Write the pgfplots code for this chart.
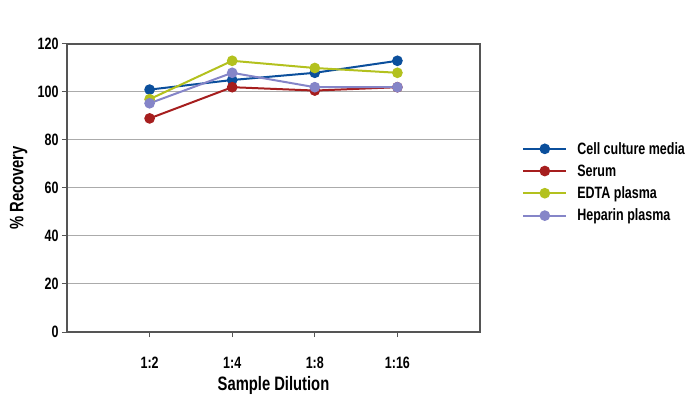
\documentclass[border=0pt]{standalone}
\usepackage{fontspec}
\setmainfont{Liberation Sans}[FakeStretch=0.76]
\usepackage{pgfplots}
\pgfplotsset{compat=1.18}
\definecolor{cblue}{HTML}{0B4F9C}
\definecolor{cred}{HTML}{A61E1E}
\definecolor{cgreen}{HTML}{B3C11E}
\definecolor{cpurple}{HTML}{8585C8}
\definecolor{axgray}{HTML}{555555}
\definecolor{gridgray}{HTML}{ABABAB}
\begin{document}
\begin{tikzpicture}
\useasboundingbox (0,0) rectangle (694bp,399bp);
\begin{axis}[
  at={(67bp,67bp)}, anchor=south west,
  scale only axis, width=413bp, height=288bp,
  xmin=0, xmax=5, ymin=0, ymax=120,
  xtick={1,2,3,4}, xticklabels={1:2,1:4,1:8,1:16},
  ytick={0,20,...,120},
  xtick pos=bottom, ytick pos=left,
  ymajorgrids, grid style={gridgray, line width=1bp},
  axis line style={axgray, line width=1.3bp},
  tick align=outside, major tick length=5bp,
  tick style={axgray, line width=1bp},
  /pgf/number format/assume math mode=true,
  tick label style={font=\fontsize{16.5}{18}\selectfont\bfseries},
  xticklabel style={yshift=-17bp},
  xlabel={Sample Dilution}, ylabel={\% Recovery},
  label style={font=\fontsize{19.5}{22}\selectfont\bfseries},
  xlabel style={at={(axis description cs:0.5,-0.186)}, anchor=center},
  ylabel style={at={(axis description cs:-0.117,0.5)}, anchor=center, rotate=0},
  legend image code/.code={\draw[mark repeat=2,mark phase=2,#1] plot coordinates {(0bp,0bp) (21.5bp,0bp) (43bp,0bp)};},
  legend style={at={(axis description cs:1.102,0.52)}, anchor=west, draw=none, fill=none,
    inner sep=0pt, row sep=9bp, font=\fontsize{16.5}{18}\selectfont\bfseries,
    nodes={inner xsep=10bp, inner ysep=0bp}},
  legend cell align=left,
]
\addplot[cblue, line width=2bp, mark=*, mark size=4.3bp, mark options={fill=cblue}] coordinates {(1,101) (2,105) (3,108) (4,113)};
\addlegendentry{Cell culture media}
\addplot[cred, line width=2bp, mark=*, mark size=4.3bp, mark options={fill=cred}] coordinates {(1,89) (2,102) (3,100.6) (4,102)};
\addlegendentry{Serum}
\addplot[cgreen, line width=2bp, mark=*, mark size=4.3bp, mark options={fill=cgreen}] coordinates {(1,97) (2,113) (3,110) (4,108)};
\addlegendentry{EDTA plasma}
\addplot[cpurple, line width=2bp, mark=*, mark size=4.3bp, mark options={fill=cpurple}] coordinates {(1,95.3) (2,108) (3,102) (4,102)};
\addlegendentry{Heparin plasma}
\end{axis}
\end{tikzpicture}
\end{document}
